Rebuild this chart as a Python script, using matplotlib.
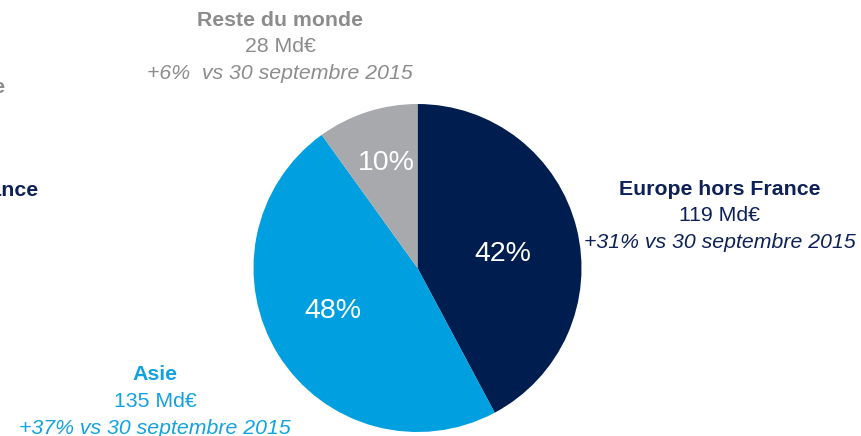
import matplotlib
matplotlib.use("Agg")
import matplotlib.pyplot as plt

plt.rcParams['font.family'] = ['Liberation Sans', 'DejaVu Sans']

# Data
regions = ["Europe hors France", "Asie", "Reste du monde"]
amounts = [119, 135, 28]  # Md€
amount_labels = ["119 Md€", "135 Md€", "28 Md€"]
growth_labels = ["+31% vs 30 septembre 2015", "+37% vs 30 septembre 2015", "+6%  vs 30 septembre 2015"]
pct_labels = ["42%", "48%", "10%"]

wedge_colors = ["#001d4f", "#009fe0", "#a7a9ac"]
text_colors = ["#0d2158", "#12a2e2", "#8c8c8c"]

W, H = 861, 436
fig = plt.figure(figsize=(W / 100, H / 100), dpi=100)
ax = fig.add_axes([0, 0, 1, 1])
ax.set_xlim(0, W)
ax.set_ylim(0, H)
ax.set_aspect('equal')
ax.axis('off')

cx, cy, r = 417.5, H - 268, 164
wedges, texts, autotexts = ax.pie(
    amounts, colors=wedge_colors, startangle=90, counterclock=False,
    center=(cx, cy), radius=r, autopct='%1.0f%%', pctdistance=0.55,
    textprops=dict(color='white', fontsize=20.5))
ax.set_xlim(0, W)
ax.set_ylim(0, H)

# place percentage labels like the reference
pct_pos = [(503, 254), (333, 311), (386, 163)]
for t, lab, (px, py) in zip(autotexts, pct_labels, pct_pos):
    t.set_text(lab)
    t.set_position((px, H - py))
    t.set_ha('center'); t.set_va('center')

# Region annotation blocks
fs = 15.3
block_pos = [(719.5, 189), (155, 375), (280, 20)]
line_gap = 26.5
for name, amt, gr, col, (bx, by) in zip(regions, amount_labels, growth_labels, text_colors, block_pos):
    ax.text(bx, H - by, name, color=col, fontsize=fs, fontweight='bold', ha='center', va='center')
    ax.text(bx, H - (by + line_gap), amt, color=col, fontsize=fs, ha='center', va='center')
    ax.text(bx, H - (by + 2 * line_gap), gr, color=col, fontsize=fs, style='italic', ha='center', va='center')

# Partially clipped labels at the left edge (from adjacent chart)
ax.text(6, H - 87, "monde", color="#8c8c8c", fontsize=fs, fontweight='bold', ha='right', va='center')
ax.text(38.5, H - 190, "France", color="#0d2158", fontsize=fs, fontweight='bold', ha='right', va='center')

fig.savefig("out.png", dpi=100)
